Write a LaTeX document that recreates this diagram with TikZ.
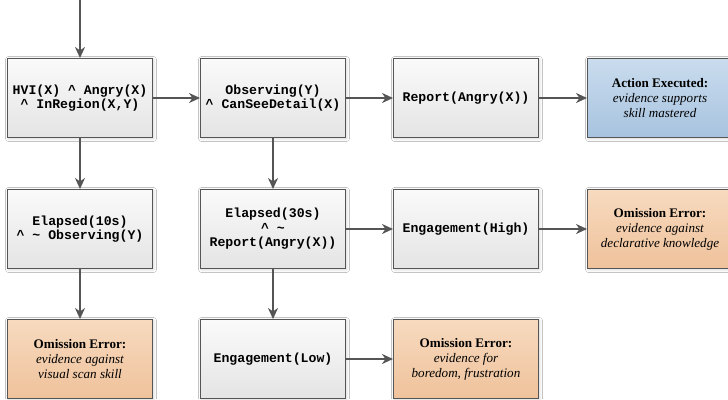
\documentclass[tikz,border=0pt]{standalone}
\usepackage{fontspec}
\setmainfont{Liberation Serif}
\setmonofont{Liberation Mono}
\usetikzlibrary{shadows.blur,arrows.meta}
\definecolor{edge}{HTML}{555555}
\definecolor{graytop}{HTML}{FAFAFA}
\definecolor{graybot}{HTML}{E4E4E4}
\definecolor{bluetop}{HTML}{CADCEE}
\definecolor{bluebot}{HTML}{A7C3DF}
\definecolor{orgtop}{HTML}{F7DABF}
\definecolor{orgbot}{HTML}{EFC29B}
\newcommand\ev[1]{{\itshape #1}}
\newcommand\hd[1]{{\bfseries #1}}
\newcommand\caret{\textasciicircum}
\newcommand\tild{\textasciitilde}
\begin{document}
\begin{tikzpicture}[x=1pt,y=-1pt,
  basebox/.style={draw=edge, line width=1pt, minimum width=145pt, minimum height=79pt,
    inner sep=0pt, align=center,
    blur shadow={shadow xshift=1pt, shadow yshift=-1pt, shadow blur radius=3pt, shadow opacity=18}},
  box/.style={basebox, top color=graytop, bottom color=graybot,
    font=\fontsize{13.2}{14.5}\selectfont\ttfamily\bfseries},
  goodbox/.style={basebox, top color=bluetop, bottom color=bluebot,
    font=\fontsize{13.1}{15}\selectfont},
  errbox/.style={basebox, top color=orgtop, bottom color=orgbot,
    font=\fontsize{13.1}{15}\selectfont},
  conn/.style={draw=edge, line width=1.8pt, -{Stealth[length=11pt,width=10pt,inset=3.5pt]}}
]
\useasboundingbox (0,0) rectangle (728,399);
\fill[white] (0,0) rectangle (728,399);

\coordinate (top) at (80,0);
\node[box] (a1) at (80,98) {HVI(X) \caret{} Angry(X)\\\caret{} InRegion(X,Y)};
\node[box] (b1) at (273,98) {Observing(Y)\\\caret{} CanSeeDetail(X)};
\node[box] (c1) at (466,98) {Report(Angry(X))};
\node[goodbox] (d1) at (660,98) {\hd{Action Executed:}\\\ev{evidence supports}\\\ev{skill mastered}};

\node[box] (a2) at (80,229) {Elapsed(10s)\\\caret{} \tild{} Observing(Y)};
\node[box] (b2) at (273,229) {Elapsed(30s)\\\caret{} \tild{}\\Report(Angry(X))};
\node[box] (c2) at (466,229) {Engagement(High)};
\node[errbox] (d2) at (660,229) {\hd{Omission Error:}\\\ev{evidence against}\\\ev{declarative knowledge}};

\node[errbox] (a3) at (80,359) {\hd{Omission Error:}\\\ev{evidence against}\\\ev{visual scan skill}};
\node[box] (b3) at (273,359) {Engagement(Low)};
\node[errbox] (c3) at (466,359) {\hd{Omission Error:}\\\ev{evidence for}\\\ev{boredom, frustration}};

\draw[conn] (top) -- (a1);
\draw[conn] (a1) -- (b1);
\draw[conn] (b1) -- (c1);
\draw[conn] (c1) -- (d1);
\draw[conn] (a1) -- (a2);
\draw[conn] (a2) -- (a3);
\draw[conn] (b1) -- (b2);
\draw[conn] (b2) -- (c2);
\draw[conn] (c2) -- (d2);
\draw[conn] (b2) -- (b3);
\draw[conn] (b3) -- (c3);
\end{tikzpicture}
\end{document}
